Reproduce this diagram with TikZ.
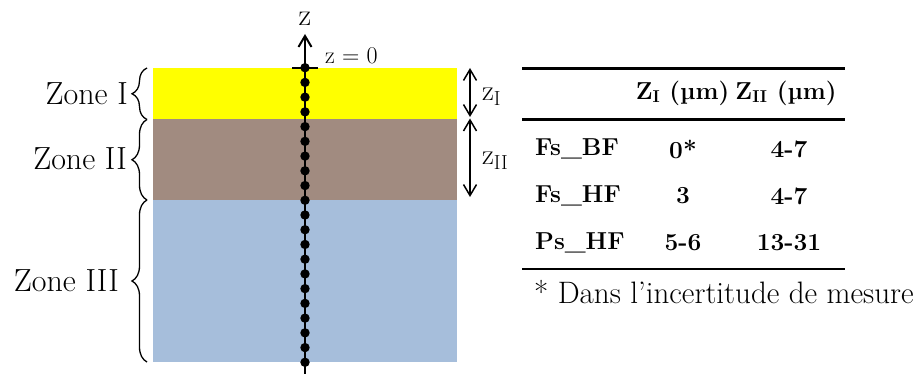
\documentclass[tikz,border=0pt]{standalone}
\usepackage{fontspec}
\usetikzlibrary{arrows.meta,decorations.pathreplacing}
\definecolor{zyellow}{RGB}{255,255,0}
\definecolor{zbrown}{RGB}{161,139,128}
\definecolor{zblue}{RGB}{166,190,219}
\begin{document}
\begin{tikzpicture}[x=1pt,y=-1pt,
  zonelab/.style={anchor=east,inner sep=0pt,font=\fontsize{32}{35}\selectfont},
  zbrace/.style={decorate,decoration={brace,amplitude=15pt},line width=1.3pt},
  dimarrow/.style={line width=1.5pt,{Straight Barb[length=11pt,width=13pt]}-{Straight Barb[length=11pt,width=13pt]}},
  axis/.style={line width=2pt,-{Straight Barb[length=11pt,width=13pt]}},
  dimlab/.style={anchor=west,inner sep=0pt,font=\fontsize{29}{32}\selectfont},
  rule/.style={line width=2.4pt},
  tab/.style={inner sep=0pt,font=\fontsize{24.5}{28}\selectfont\bfseries},
  dot/.style={circle,fill=black,inner sep=0pt,minimum size=9.4pt}]
\useasboundingbox (0,0) rectangle (921,374);
% layers
\fill[zyellow] (153,68) rectangle (457,119.5);
\fill[zbrown] (153,119.5) rectangle (457,200);
\fill[zblue] (153,200) rectangle (457,362);
% axis
\coordinate (axbot) at (305,374);
\coordinate (axtop) at (305,34);
\draw[axis] (axbot) -- (axtop);
\coordinate (tickL) at (292,68);
\coordinate (tickR) at (318,68);
\draw[line width=1.5pt] (tickL) -- (tickR);
\foreach \i in {0,...,20} \node[dot] (d\i) at (305,{67.7+14.73*\i}) {};
\node[inner sep=0pt,font=\fontsize{31}{33}\selectfont] (zlab) at (305,19) {z};
\node[anchor=west,inner sep=0pt,font=\fontsize{24}{26}\selectfont] (z0) at (325,56) {z = 0};
% braces
\coordinate (b1a) at (147,119.5); \coordinate (b1b) at (147,68);
\coordinate (b2a) at (147,200); \coordinate (b2b) at (147,119.5);
\coordinate (b3a) at (147,362); \coordinate (b3b) at (147,200);
\draw[zbrace] (b1a) -- (b1b);
\draw[zbrace] (b2a) -- (b2b);
\draw[zbrace] (b3a) -- (b3b);
\node[zonelab] (zone1) at (128,94) {Zone I};
\node[zonelab] (zone2) at (127,159) {Zone II};
\node[zonelab] (zone3) at (119,281) {Zone III};
% dimension arrows
\coordinate (a1t) at (470,68); \coordinate (a1b) at (470,117);
\coordinate (a2t) at (470,118.5); \coordinate (a2b) at (470,197);
\draw[dimarrow] (a1t) -- (a1b);
\draw[dimarrow] (a2t) -- (a2b);
\node[dimlab] (zI) at (482,97) {z\textsubscript{I}};
\node[dimlab] (zII) at (482,161) {z\textsubscript{II}};
% table
\coordinate (r1L) at (522,68.5); \coordinate (r1R) at (845,68.5);
\coordinate (r2L) at (522,119.5); \coordinate (r2R) at (845,119.5);
\coordinate (r3L) at (522,269); \coordinate (r3R) at (845,269);
\draw[rule] (r1L) -- (r1R);
\draw[rule] (r2L) -- (r2R);
\draw[rule] (r3L) -- (r3R);
\node[tab] (h1) at (682.5,93) {Z\textsubscript{I} (µm)};
\node[tab] (h2) at (786,93) {Z\textsubscript{II} (µm)};
\node[tab,anchor=west] (l1) at (535,149.3) {Fs\_BF};
\node[tab,anchor=west] (l2) at (535,196) {Fs\_HF};
\node[tab,anchor=west] (l3) at (535,242.7) {Ps\_HF};
\node[tab] (v11) at (683,149.3) {0*};
\node[tab] (v12) at (789,149.3) {4-7};
\node[tab] (v21) at (683,196) {3};
\node[tab] (v22) at (789,196) {4-7};
\node[tab] (v31) at (683,242.7) {5-6};
\node[tab] (v32) at (789,242.7) {13-31};
\node[anchor=west,inner sep=0pt,font=\fontsize{31}{34}\selectfont] (foot) at (534,292) {* Dans l’incertitude de mesure};
\end{tikzpicture}
\end{document}
